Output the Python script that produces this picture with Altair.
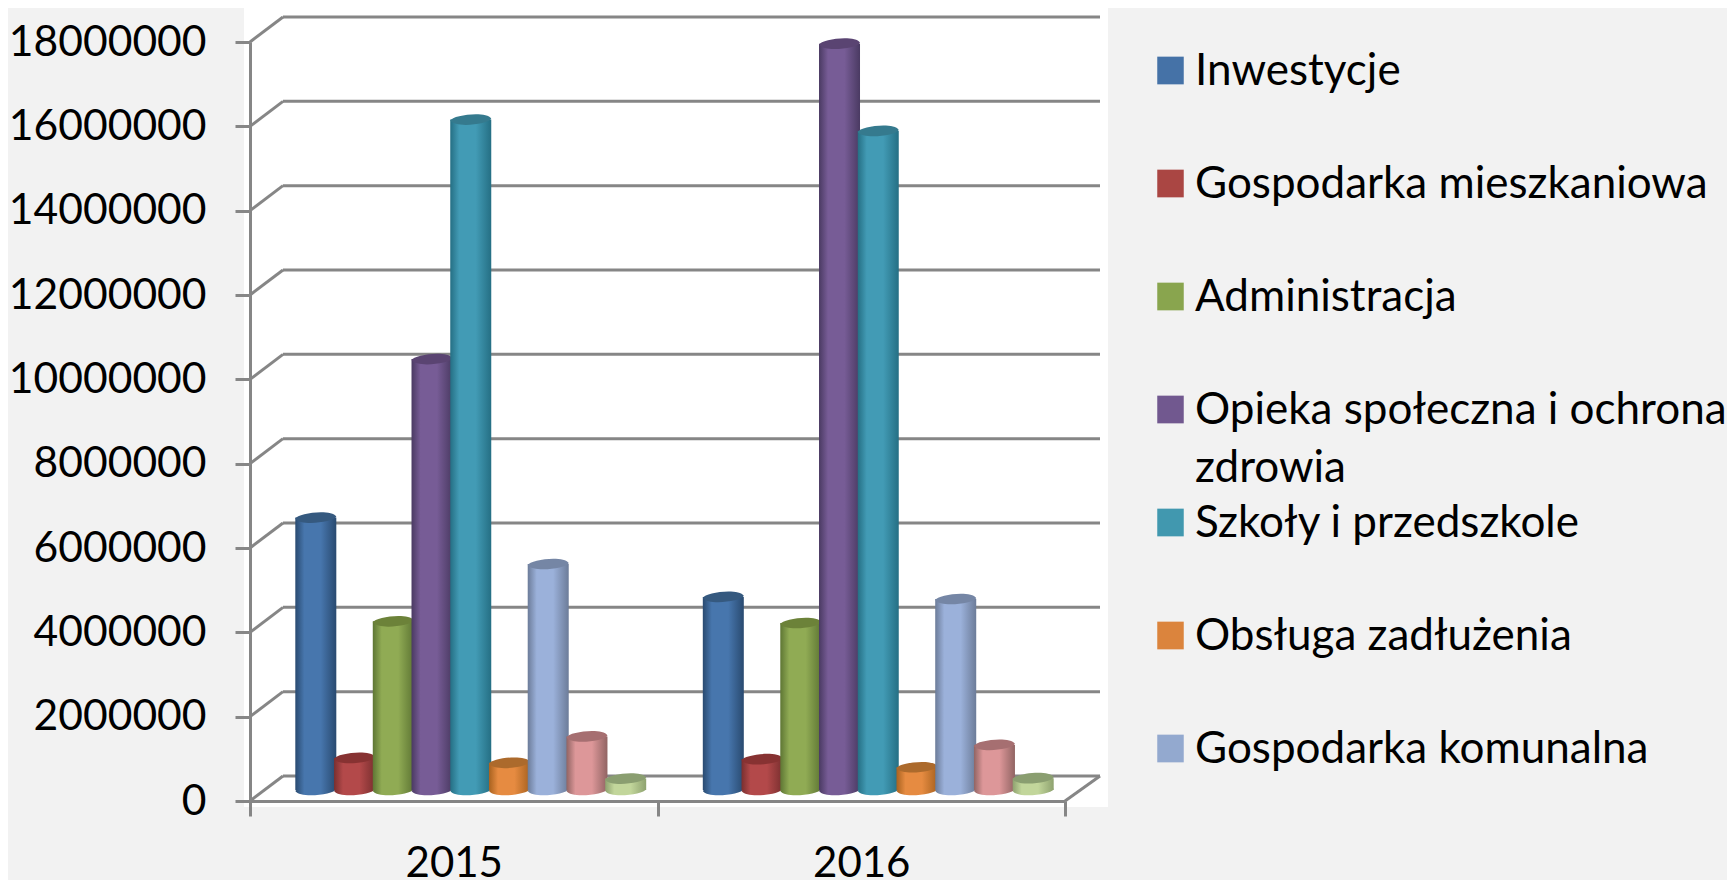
import altair as alt
import pandas as pd

years = ["2015", "2016"]
series = ["Inwestycje", "Gospodarka mieszkaniowa", "Administracja",
          "Opieka społeczna i ochrona\nzdrowia", "Szkoły i przedszkole",
          "Obsługa zadłużenia", "Gospodarka komunalna", "Seria 8", "Seria 9"]
values_2015 = [6460000, 760000, 4000000, 10220000, 15900000, 645000, 5360000, 1270000, 270000]
values_2016 = [4580000, 730000, 3960000, 17700000, 15630000, 540000, 4530000, 1070000, 280000]
y_ticks = [0, 2000000, 4000000, 6000000, 8000000, 10000000, 12000000, 14000000, 16000000, 18000000]

main_colors = ["#4776ad", "#b3494a", "#90ab54", "#775c96", "#429bb5", "#e68b41", "#9bb1da", "#dd9799", "#c2d69b"]
edge_colors = ["#294a70", "#7a2f2f", "#5e7634", "#4a3a62", "#256f84", "#a8621f", "#6c7c99", "#916463", "#8ea26f"]
top_colors = ["#35597f", "#873232", "#6c8239", "#5a4472", "#357a8e", "#ac6a2c", "#7586a5", "#a66f71", "#8a9e70"]
legend_colors = ["#4572a7", "#aa4643", "#89a54e", "#71588f", "#4198af", "#db843d", "#93a9cf"]

FONT = "Lato"
GREY = "#868686"
LW = 3
ELLIPSE = "M-1,0.05 C-0.9,-0.22 0.75,-0.44 1,-0.05 C0.9,0.22 -0.75,0.44 -1,0.05 Z"
SWATCH = "M-1,-1.045 L1,-1.045 L1,1.045 L-1,1.045 Z"
BAR_W = 41
BAR_DX = 17
BASE_DY = -11

y_scale = alt.Scale(domain=[0, 18000000], nice=False, zero=True)
y_axis = alt.Axis(values=y_ticks, format="d", title=None, grid=False, zindex=1, labelLimit=400,
                  domainColor=GREY, domainWidth=LW, tickColor=GREY, tickWidth=LW, tickSize=15,
                  labelFont=FONT, labelFontSize=42.6, labelColor="#000000", labelPadding=29)
y_enc = alt.Y("value:Q", scale=y_scale, axis=y_axis)
x_enc = alt.X("year:N", scale=alt.Scale(domain=years, paddingInner=0, paddingOuter=0),
              axis=alt.Axis(title=None, grid=False, zindex=1, tickBand="extent", labelAngle=0,
                            domainColor=GREY, domainWidth=LW, tickColor=GREY, tickWidth=LW, tickSize=15,
                            labelFont=FONT, labelFontSize=42, labelColor="#000000", labelPadding=27))
xoff_enc = alt.XOffset("series:N", scale=alt.Scale(domain=series, paddingInner=0, paddingOuter=0.76,
                                                    range=[BAR_DX, 407.5 + BAR_DX]))

ticks_df = pd.DataFrame({"value": y_ticks})
zero_df = pd.DataFrame({"value": [0]})

layers = []
# white plot backdrop
layers.append(alt.Chart(zero_df).mark_rect(fill="#ffffff").encode(
    x=alt.value(-6), x2=alt.value(858), y=alt.value(-34), y2=alt.value(765)))
# back-wall gridlines
layers.append(alt.Chart(ticks_df).mark_rule(color=GREY, strokeWidth=LW, yOffset=-25).encode(
    x=alt.value(33), x2=alt.value(850), y=y_enc))
# left-wall slanted gridlines
layers.append(alt.Chart(ticks_df).mark_rule(color=GREY, strokeWidth=LW, y2Offset=-25).encode(
    x=alt.value(0), x2=alt.value(33), y=y_enc, y2="value:Q"))
# floor right edge
layers.append(alt.Chart(zero_df).mark_rule(color=GREY, strokeWidth=LW, y2Offset=-25).encode(
    x=alt.value(815), x2=alt.value(850), y=y_enc, y2="value:Q"))

for i, name in enumerate(series):
    df = pd.DataFrame({"year": years, "series": [name, name],
                       "value": [values_2015[i], values_2016[i]], "base": [0, 0]})
    grad = alt.LinearGradient(gradient="linear", x1=0, x2=1, y1=0, y2=0, stops=[
        alt.GradientStop(offset=0, color=edge_colors[i]),
        alt.GradientStop(offset=0.22, color=main_colors[i]),
        alt.GradientStop(offset=0.62, color=main_colors[i]),
        alt.GradientStop(offset=1, color=edge_colors[i]),
    ])
    layers.append(alt.Chart(df).mark_point(shape=ELLIPSE, size=BAR_W ** 2, filled=True, fill=grad, opacity=1,
                                           strokeWidth=0, yOffset=BASE_DY).encode(
        x=x_enc, xOffset=xoff_enc, y=alt.Y("base:Q", scale=y_scale, axis=y_axis)))
    layers.append(alt.Chart(df).mark_bar(width=BAR_W, fill=grad, yOffset=BASE_DY, y2Offset=BASE_DY).encode(
        x=x_enc, xOffset=xoff_enc, y=y_enc, y2="base:Q"))
    layers.append(alt.Chart(df).mark_point(shape=ELLIPSE, size=BAR_W ** 2, filled=True, fill=top_colors[i],
                                           opacity=1, strokeWidth=0, yOffset=BASE_DY).encode(
        x=x_enc, xOffset=xoff_enc, y=y_enc))

# legend
LEG_TOP = 28.5
LEG_STEP = 113
for i, color in enumerate(legend_colors):
    df = pd.DataFrame({"name": [series[i]]})
    ypos = LEG_TOP + i * LEG_STEP
    layers.append(alt.Chart(df).mark_point(shape=SWATCH, size=26.5 ** 2, filled=True, fill=color, opacity=1,
                                           strokeWidth=0).encode(x=alt.value(920.5), y=alt.value(ypos)))
    layers.append(alt.Chart(df).mark_text(font=FONT, fontSize=44, align="left", baseline="alphabetic",
                                          color="#000000", lineBreak="\n", lineHeight=58).encode(
        x=alt.value(945), y=alt.value(ypos + 14.5), text="name:N"))

chart = alt.layer(*layers).properties(
    width=815, height=759, background="#f2f2f2",
    padding={"left": 242, "top": 34, "right": 662, "bottom": 79},
    autosize=alt.AutoSizeParams(type="none"),
).configure_view(stroke=None)

chart.save("out.html", embed_options={"renderer": "svg", "actions": False})
